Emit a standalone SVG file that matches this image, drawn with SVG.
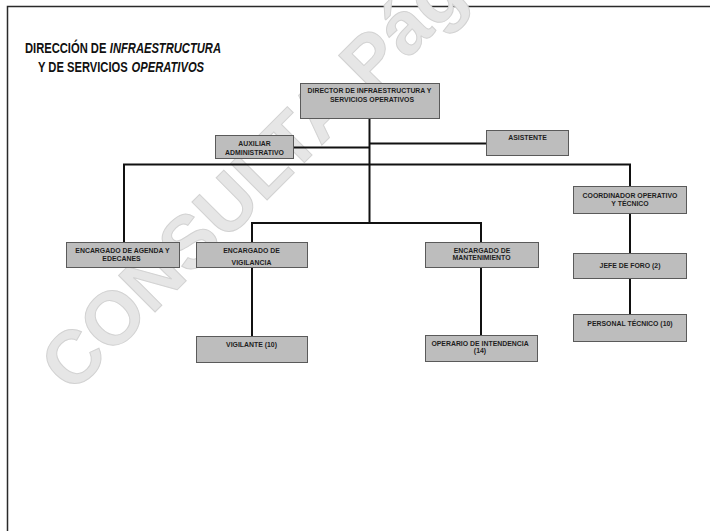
<svg xmlns="http://www.w3.org/2000/svg" width="710" height="531" viewBox="0 0 710 531">
<style>
.bg{fill:#ffffff}
.frame{fill:none;stroke:#2a2a2a;stroke-width:1.5}
.wm{font-family:"Liberation Sans",Arial,sans-serif;font-weight:bold;font-size:75px;fill:#e6e6e6;stroke:#d2d2d2;stroke-width:1}
.title{font-family:"Liberation Sans",Arial,sans-serif;font-weight:bold;font-size:14px;fill:#111}
.it{font-style:italic}
.box{fill:#bdbdbd;stroke:#5a5a5a;stroke-width:1}
.lbl{font-family:"Liberation Sans",Arial,sans-serif;font-weight:bold;font-size:6.9px;fill:#1e1e1e;text-anchor:middle}
.ln{fill:none;stroke:#111;stroke-width:2}
</style>
<rect class="bg" x="0" y="0" width="710" height="531"/>
<path class="frame" d="M7.5,531 V6.5 H710"/>
<text class="wm" transform="translate(72,395) rotate(-45)">CONSULTA Pág</text>
<g id="title">
<g transform="translate(25,53) scale(0.8,1)">
<text class="title" x="0" y="0">DIRECCIÓN DE</text>
<text class="title it" x="106" y="0">INFRAESTRUCTURA</text>
</g>
<g transform="translate(38,72) scale(0.8,1)">
<text class="title" x="0" y="0">Y DE SERVICIOS</text>
<text class="title it" x="117" y="0">OPERATIVOS</text>
</g>
</g>
<g id="connectors">
<path class="ln" d="M369.5,119 V223"/>
<path class="ln" d="M369.5,143.5 H486"/>
<path class="ln" d="M293,147.5 H369.5"/>
<path class="ln" d="M124,242 V164.5 H630 V186"/>
<path class="ln" d="M252,242 V223 H481 V242"/>
<path class="ln" d="M252,267 V336"/>
<path class="ln" d="M481,267 V335"/>
<path class="ln" d="M630,213 V253"/>
<path class="ln" d="M630,278 V314"/>
</g>
<g id="director">
<rect class="box" x="300.5" y="83.5" width="139" height="35"/>
<text class="lbl" x="369.5" y="92.5">DIRECTOR DE INFRAESTRUCTURA Y</text>
<text class="lbl" x="372" y="101.5">SERVICIOS OPERATIVOS</text>
</g>
<g id="auxiliar">
<rect class="box" x="215.5" y="135.5" width="78" height="23"/>
<text class="lbl" x="254.5" y="145.5">AUXILIAR</text>
<text class="lbl" x="254.5" y="154.5">ADMINISTRATIVO</text>
</g>
<g id="asistente">
<rect class="box" x="486.5" y="130.5" width="82" height="25"/>
<text class="lbl" x="527.5" y="139.5">ASISTENTE</text>
</g>
<g id="agenda">
<rect class="box" x="66.5" y="242.5" width="113" height="25"/>
<text class="lbl" x="122.5" y="252.5">ENCARGADO DE AGENDA Y</text>
<text class="lbl" x="121.5" y="260.5">EDECANES</text>
</g>
<g id="enc-vigilancia">
<rect class="box" x="196.5" y="242.5" width="111" height="25"/>
<text class="lbl" x="251.5" y="252.5">ENCARGADO DE</text>
<text class="lbl" x="251.5" y="265">VIGILANCIA</text>
</g>
<g id="vigilante">
<rect class="box" x="196.5" y="336.5" width="111" height="26"/>
<text class="lbl" x="251.5" y="346.5">VIGILANTE (10)</text>
</g>
<g id="enc-mantenimiento">
<rect class="box" x="425.5" y="242.5" width="113" height="25"/>
<text class="lbl" x="482" y="252.5">ENCARGADO DE</text>
<text class="lbl" x="481.5" y="259.5">MANTENIMIENTO</text>
</g>
<g id="operario">
<rect class="box" x="425.5" y="335.5" width="112" height="26"/>
<text class="lbl" x="480" y="345.5">OPERARIO DE INTENDENCIA</text>
<text class="lbl" x="480" y="352.5">(14)</text>
</g>
<g id="coordinador">
<rect class="box" x="573.5" y="186.5" width="113" height="27"/>
<text class="lbl" x="630" y="197.5">COORDINADOR OPERATIVO</text>
<text class="lbl" x="630" y="205.5">Y TÉCNICO</text>
</g>
<g id="jefe-foro">
<rect class="box" x="573.5" y="253.5" width="113" height="25"/>
<text class="lbl" x="630" y="267.5">JEFE DE FORO (2)</text>
</g>
<g id="personal-tecnico">
<rect class="box" x="573.5" y="314.5" width="113" height="27"/>
<text class="lbl" x="630" y="326">PERSONAL TÉCNICO (10)</text>
</g>
</svg>
